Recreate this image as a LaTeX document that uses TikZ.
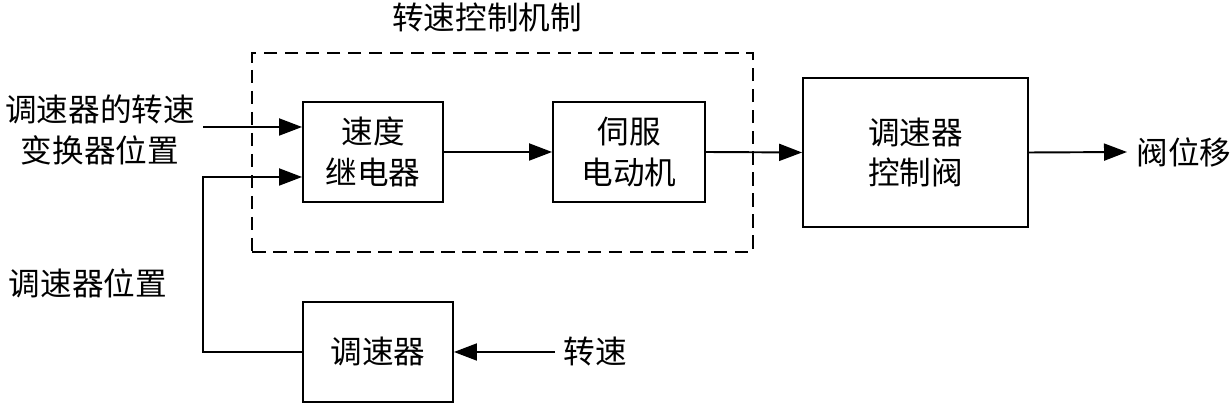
\documentclass[tikz,border=0pt]{standalone}
\usepackage{fontspec}
\newfontfamily\cjk{Noto Sans CJK SC}
\usetikzlibrary{arrows.meta}
\tikzset{
	blk/.style={draw, line width=1.1pt, align=center, inner sep=0pt},
	lbl/.style={align=center, inner sep=0pt},
	arr/.style={line width=1.1pt, -{Triangle[length=0.46cm, width=0.34cm]}}
}

\begin{document}
\begin{tikzpicture}[x=0.02cm, y=-0.02cm, font=\cjk\fontsize{18}{23}\selectfont]
			%%%%% START %%%%%
			\useasboundingbox (0, 0) rectangle (1230, 404);
			
			\node[draw, dash pattern=on 0.27cm off 0.15cm, line width=1pt, minimum width=10.02cm, minimum height=3.98cm] (ctrl) at (502.5, 152.5) {};
			\node[lbl] (title) at (487, 17) {转速控制机制};
			
			\node[blk, minimum width=2.8cm, minimum height=2cm] (relay) at (373, 152) {速度\\继电器};
			\node[blk, minimum width=3.04cm, minimum height=2cm] (servo) at (629, 152) {伺服\\电动机};
			\node[blk, minimum width=4.5cm, minimum height=2.98cm] (valve) at (915.5, 152.5) {调速器\\控制阀};
			\node[blk, minimum width=3cm, minimum height=2cm] (gov) at (378, 352) {调速器};
			
			\node[lbl] (in1lbl) at (100, 130) {调速器的转速\\变换器位置};
			\node[lbl] (in2lbl) at (88, 283) {调速器位置};
			\node[lbl] (outlbl) at (1184, 152) {阀位移};
			\node[lbl] (spdlbl) at (595, 352) {转速};
			
			\coordinate (in1) at (203, 127);
			\coordinate (fb) at (203, 177);
			\coordinate (out) at (1127, 152);
			\coordinate (spd) at (555, 352);
			
			\draw[arr] (in1) -- (in1 -| relay.west);
			\draw[arr] (gov.west) -| (fb) -- (fb -| relay.west);
			\draw[arr] (relay.east) -- (servo.west);
			\draw[arr] (servo.east) -- (valve.west);
			\draw[arr] (valve.east) -- (out);
			\draw[arr] (spd) -- (gov.east);
			
			%%%%% END %%%%%
\end{tikzpicture}
\end{document}
